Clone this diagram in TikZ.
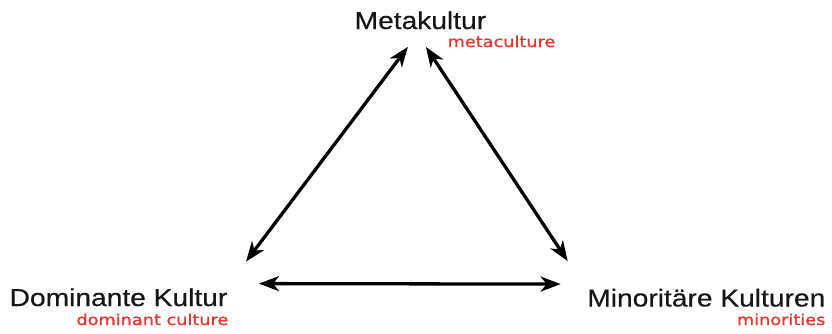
\documentclass[tikz,border=0pt]{standalone}
\usepackage{fontspec}
\setmainfont{Liberation Sans}[FakeStretch=1.15, FakeBold=0.4]
\newfontfamily\subfont{DejaVu Sans}[FakeStretch=1.18, FakeBold=1.2]
\usetikzlibrary{arrows.meta, positioning, calc}
\definecolor{cblack}{HTML}{161616}
\definecolor{cred}{HTML}{E2372E}
\tikzset{
  every picture/.style={line width=3.3pt},
  label/.style={inner sep=0pt, text=cblack, font=\fontsize{24.5}{28}\selectfont},
  sub/.style={inner sep=0pt, text=cred, font=\subfont\fontsize{15}{18}\selectfont},
  arrow/.style={{Stealth[length=20pt, width=15pt, inset=6pt]}-{Stealth[length=20pt, width=15pt, inset=6pt]}, draw=black},
}

\begin{document}
\begin{tikzpicture}[x=1pt, y=1pt]
  \useasboundingbox (0,0) rectangle (832,333);
  \node[label, anchor=base west] (meta) at (353,304) {Metakultur};
  \node[sub, anchor=base west] (meta-en) at (446,286) {metaculture};
  \node[label, anchor=base west] (dom) at (8,27) {Dominante Kultur};
  \node[sub, anchor=base east] (dom-en) at (230,8) {dominant culture};
  \node[label, anchor=base east] (min) at (827,26.5) {Minoritäre Kulturen};
  \node[sub, anchor=base east] (min-en) at (827,8) {minorities};
  \draw[arrow] ([shift={(17,25)}]dom.north east) -- ([shift={(-12.5,-16)}]meta.south);
  \draw[arrow] ([shift={(5.5,-16)}]meta.south) -- ([shift={(-18,26)}]min.north west);
  \draw[arrow] ([shift={(30,3)}]dom.north east) -- ([shift={(-25,3)}]min.north west);
\end{tikzpicture}
\end{document}
